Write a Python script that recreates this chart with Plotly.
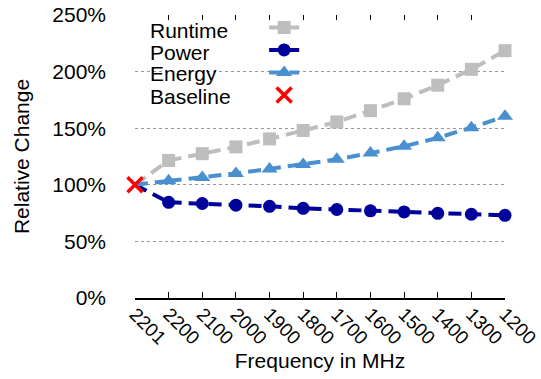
import plotly.graph_objects as go

freqs = ["2201", "2200", "2100", "2000", "1900", "1800", "1700", "1600", "1500", "1400", "1300", "1200"]
runtime = [100, 121.5, 127.5, 133.5, 140.5, 148, 155.5, 165.5, 176, 188, 202, 218.5]
power = [100, 84.5, 83.5, 82, 81, 79.2, 78.2, 77, 76, 74.8, 74, 73]
energy = [100, 103.5, 106.5, 110, 114, 118, 122.5, 128, 134, 141.5, 150.5, 160.5]
baseline_x = ["2201"]
baseline_y = [100]
ytick_vals = [0, 50, 100, 150, 200, 250]
ytick_text = ["0%", "50%", "100%", "150%", "200%", "250%"]
legend_names = ["Runtime", "Power", "Energy", "Baseline"]

FONT = "Liberation Sans"
DASH = "13px,7px"

series = [
    (legend_names[0], runtime, "#BEBEBE", "square", 13),
    (legend_names[1], power, "#00009B", "circle", 13),
    (legend_names[2], energy, "#4A8FD0", "triangle-up", 14),
]

fig = go.Figure()
for name, vals, col, sym, size in series:
    fig.add_trace(go.Scatter(
        x=freqs[:2], y=vals[:2], mode="lines", showlegend=False,
        line=dict(color=col, width=4, dash=DASH), cliponaxis=False, hoverinfo="skip"))
    fig.add_trace(go.Scatter(
        x=freqs[1:], y=vals[1:], mode="lines+markers", name=name,
        line=dict(color=col, width=4, dash=DASH),
        marker=dict(symbol=sym, size=size, color=col),
        cliponaxis=False))

fig.add_trace(go.Scatter(
    x=baseline_x, y=baseline_y, mode="markers", name=legend_names[3],
    marker=dict(symbol="x-thin", size=15, line=dict(color="#FF0000", width=3.5)),
    cliponaxis=False))

# white legend box background (covers the grid, as in the original)
fig.add_shape(type="rect", xref="paper", yref="paper", x0=0.027, x1=0.505, y0=0.67, y1=0.99,
              fillcolor="white", line=dict(width=0), layer="between")

# legend labels on the left of the symbols
row_y = [0.9437, 0.866, 0.792, 0.711]
for name, yy in zip(legend_names, row_y):
    fig.add_annotation(text=name, xref="paper", yref="paper", x=0.035, y=yy,
                       xanchor="left", yanchor="middle", showarrow=False,
                       font=dict(size=21, family=FONT, color="black"))

fig.update_layout(
    width=541, height=379,
    margin=dict(l=135, r=36, t=14, b=81),
    paper_bgcolor="white", plot_bgcolor="white",
    font=dict(family=FONT, size=21, color="black"),
    showlegend=True,
    legend=dict(x=0.349, y=1.01, xanchor="left", yanchor="top",
                bgcolor="rgba(0,0,0,0)", font=dict(size=15, family=FONT, color="rgba(0,0,0,0)"),
                tracegroupgap=0, itemwidth=30),
    xaxis=dict(type="category", range=[0, 11], categoryorder="array", categoryarray=freqs,
               showline=True, linecolor="black", linewidth=1.5,
               ticks="inside", ticklen=6, tickcolor="black", tickwidth=1,
               tickangle=45, showgrid=False, zeroline=False, automargin=False,
               ticklabelstandoff=-4,
               title=dict(text="Frequency in MHz", standoff=6, font=dict(size=21, family=FONT)),
               tickfont=dict(size=19)),
    xaxis2=dict(type="category", range=[0, 11], categoryorder="array", categoryarray=freqs,
                overlaying="x", side="top", automargin=False,
                showline=False, ticks="inside", ticklen=5, tickcolor="black", tickwidth=1,
                showticklabels=False, showgrid=False, zeroline=False),
    yaxis=dict(range=[0, 250], tickvals=ytick_vals, ticktext=ytick_text,
               showgrid=True, gridcolor="#999999", griddash="dot", gridwidth=1,
               showline=False, zeroline=False, ticks="", ticklabelstandoff=28,
               automargin=False, tickfont=dict(size=21),
               title=dict(text="Relative Change", standoff=16, font=dict(size=21, family=FONT))),
)
fig.add_trace(go.Scatter(x=freqs, y=[None] * len(freqs), xaxis="x2", showlegend=False,
                         mode="lines", hoverinfo="skip"))

fig.write_html("out.html")
